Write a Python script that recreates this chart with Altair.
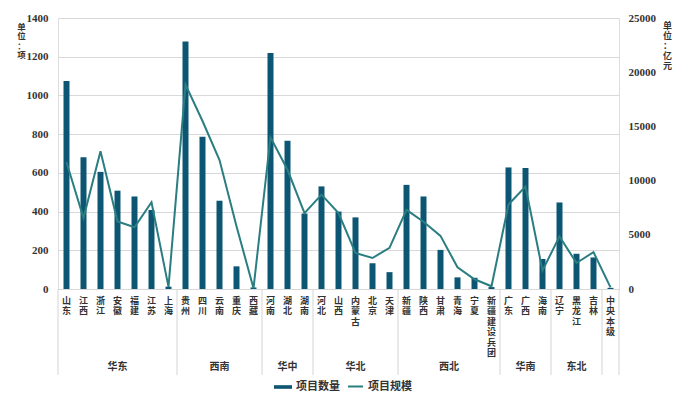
import altair as alt
import pandas as pd

cats = ["山东", "江西", "浙江", "安徽", "福建", "江苏", "上海",
        "贵州", "四川", "云南", "重庆", "西藏",
        "河南", "湖北", "湖南",
        "河北", "山西", "内蒙古", "北京", "天津",
        "新疆", "陕西", "甘肃", "青海", "宁夏", "新疆建设兵团",
        "广东", "广西", "海南",
        "辽宁", "黑龙江", "吉林",
        "中央本级"]
counts = [1075, 680, 605, 508, 478, 408, 12,
          1279, 787, 456, 117, 8,
          1219, 766, 390,
          530, 400, 370, 133, 87,
          538, 478, 202, 60, 58, 10,
          628, 625, 155,
          447, 182, 163,
          6]
scales = [11700, 6550, 12700, 6240, 5700, 8000, 200,
          18850, 15500, 11900, 5800, 60,
          14000, 11000, 7000,
          8700, 7000, 3320, 2860, 3800,
          7300, 6200, 4900, 2000, 900, 250,
          7800, 9450, 1700,
          4850, 2400, 3400,
          150]

groups = ["华东", "西南", "华中", "华北", "西北", "华南", "东北"]
group_mid = ["安徽", "云南", "湖北", "内蒙古", "甘肃", "广西", "黑龙江"]
group_half = [False, False, False, False, True, False, False]
boundaries = ["山东", "贵州", "河南", "河北", "新疆", "广东", "辽宁", "中央本级"]

bar_name = "项目数量"
line_name = "项目规模"
left_title = ["单", "位", "：", "项"]
right_title = ["单", "位", "：", "亿", "元"]
BAR_C = "#0d5673"
LINE_C = "#2a7d80"

W, H = 561, 271

df = pd.DataFrame({"cat": cats, "count": counts, "scale": scales})
gdf = pd.DataFrame({"cat": group_mid, "name": groups, "half": group_half})
bdf = pd.DataFrame({"cat": boundaries})

xscale = alt.Scale(domain=cats, paddingInner=0, paddingOuter=0)
xaxis = alt.Axis(title=None, labelAngle=0, labelExpr="split(datum.label, '')",
                 labelBaseline="top", labelLineHeight=10.5, labelFontSize=9,
                 labelFont="Noto Sans CJK SC", labelFontWeight="bold",
                 labelColor="#333333", labelOverlap=False, labelPadding=7,
                 ticks=False, domain=False, labelLimit=0)

legend_common = dict(title=None, orient="none", direction="horizontal",
                     labelFont="Noto Sans CJK SC", labelFontSize=11,
                     labelFontWeight="bold", labelColor="#333333", symbolOffset=0)

fill_enc = alt.Fill("series:N",
                    scale=alt.Scale(domain=[bar_name], range=[BAR_C]),
                    legend=alt.Legend(legendX=216, legendY=360,
                                      symbolType="M-1,-0.2H1V0.2H-1Z", symbolSize=324,
                                      symbolStrokeWidth=0, **legend_common))
stroke_enc = alt.Stroke("series:N",
                        scale=alt.Scale(domain=[line_name], range=[LINE_C]),
                        legend=alt.Legend(legendX=289, legendY=360,
                                          symbolType="stroke", symbolSize=225,
                                          symbolStrokeWidth=2, **legend_common))

base = alt.Chart(df)

bars = base.transform_calculate(series="'" + bar_name + "'").mark_bar(size=6).encode(
    x=alt.X("cat:N", scale=xscale, axis=xaxis),
    y=alt.Y("count:Q", scale=alt.Scale(domain=[0, 1400]),
            axis=alt.Axis(values=list(range(0, 1401, 200)), format="d",
                          title=left_title,
                          titleAngle=360, titleAlign="center", titleBaseline="top",
                          titleX=-37, titleY=4, titleFontSize=8.5, titleLineHeight=9.5,
                          titleFont="Noto Sans CJK SC", titleFontWeight="bold",
                          titleColor="#333333",
                          labelFont="Liberation Serif", labelFontWeight="bold",
                          labelFontSize=11, labelColor="#333333", labelPadding=10,
                          ticks=False, domain=False, gridColor="#d9d9d9")),
    fill=fill_enc,
)

line = base.transform_calculate(series="'" + line_name + "'").mark_line(strokeWidth=2).encode(
    x=alt.X("cat:N", scale=xscale, axis=xaxis),
    y=alt.Y("scale:Q", scale=alt.Scale(domain=[0, 25000]),
            axis=alt.Axis(orient="right", values=list(range(0, 25001, 5000)), format="d",
                          title=right_title,
                          titleAngle=360, titleAlign="center", titleBaseline="top",
                          titleX=48, titleY=3, titleFontSize=9, titleLineHeight=10,
                          titleFont="Noto Sans CJK SC", titleFontWeight="bold",
                          titleColor="#333333",
                          labelFont="Liberation Serif", labelFontWeight="bold",
                          labelFontSize=11, labelColor="#333333", labelPadding=9,
                          ticks=False, domain=False, grid=False)),
    stroke=stroke_enc,
)

text_full = alt.Chart(gdf).transform_filter("!datum.half").mark_text(
    font="Noto Sans CJK SC", fontSize=10, fontWeight="bold", color="#333333",
    baseline="middle").encode(
    x=alt.X("cat:N", scale=xscale, axis=xaxis, bandPosition=0.5),
    y=alt.value(H + 77.5),
    text="name:N",
)
text_half = alt.Chart(gdf).transform_filter("datum.half").mark_text(
    font="Noto Sans CJK SC", fontSize=10, fontWeight="bold", color="#333333",
    baseline="middle").encode(
    x=alt.X("cat:N", scale=xscale, axis=xaxis, bandPosition=1),
    y=alt.value(H + 77.5),
    text="name:N",
)

rules_start = alt.Chart(bdf).mark_rule(color="#d4d4d4", strokeWidth=1).encode(
    x=alt.X("cat:N", scale=xscale, axis=xaxis, bandPosition=0),
    y=alt.value(H), y2=alt.value(H + 86),
)
rules_end = alt.Chart(bdf).transform_filter("datum.cat === '中央本级'").mark_rule(
    color="#d4d4d4", strokeWidth=1).encode(
    x=alt.X("cat:N", scale=xscale, axis=xaxis, bandPosition=1),
    y=alt.value(H), y2=alt.value(H + 86),
)

chart = alt.layer(bars, line, rules_start, rules_end, text_full, text_half).resolve_scale(
    y="independent"
).properties(
    width=W, height=H,
    autosize=alt.AutoSizeParams(type="none"),
    padding={"left": 50, "top": 10, "right": 72, "bottom": 105},
).configure_view(stroke=None).configure(background="white")

chart.save("out.html", embed_options={"renderer": "svg", "actions": False})
